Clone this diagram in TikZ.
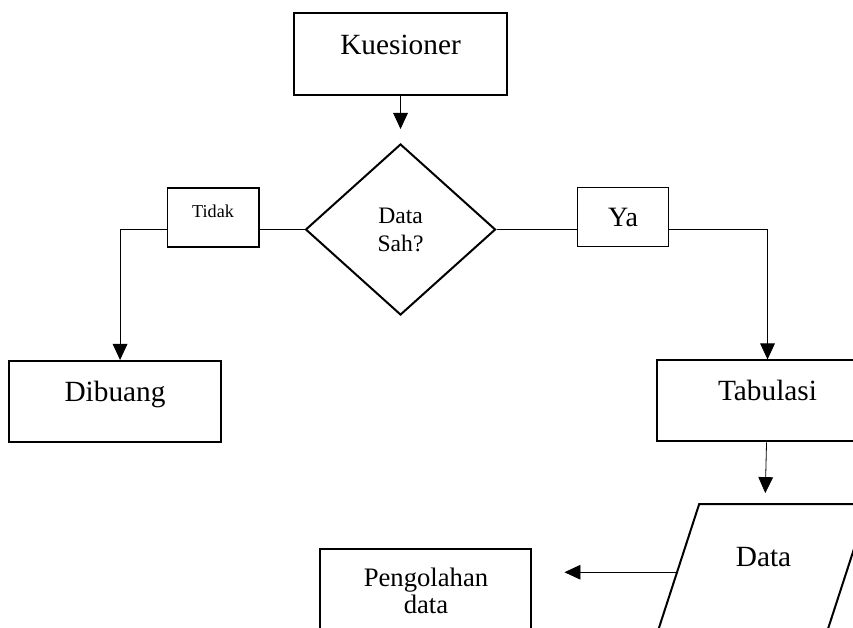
\documentclass[tikz,border=0pt]{standalone}
\usepackage{fontspec}
\setmainfont{Liberation Serif}
\usetikzlibrary{positioning,shapes.geometric,arrows.meta,calc}

\tikzset{
  box/.style={draw, line width=1.5pt, inner sep=0pt, font=\fontsize{22pt}{26pt}\selectfont, text height=16pt, text depth=16pt},
  pilihan/.style={draw, line width=1.2pt, inner sep=0pt, minimum width=68.5pt, minimum height=44.5pt},
  cek/.style={diamond, draw, line width=1.5pt, inner sep=0pt, minimum width=142.5pt, minimum height=128.25pt, align=center, font=\fontsize{17.7pt}{21pt}\selectfont},
  masukan/.style={trapezium, trapezium left angle=72, trapezium right angle=108, trapezium stretches body, draw, line width=1.5pt, inner xsep=0pt, inner ysep=30.9pt, minimum width=157.5pt, font=\fontsize{22pt}{26pt}\selectfont, text height=16pt, text depth=16pt},
  garis/.style={line width=0.6pt},
  panah/.style={line width=0.6pt, -{Triangle[length=12pt,width=11pt]}}
}

\begin{document}
\begin{tikzpicture}
\useasboundingbox (0,0) rectangle (639.75pt,-471pt);
\clip (0,0) rectangle (639.75pt,-471pt);
\node[box, minimum width=159.75pt, minimum height=61.5pt] (kues) at (300.4pt,-40.5pt) {Kuesioner};
\node[cek, below=35.25pt of kues] (sah) {Data\\Sah?};
\node[pilihan, left=33.75pt of sah, yshift=9pt, font=\fontsize{13.6pt}{16pt}\selectfont, text height=10pt, text depth=10pt] (tidak) {Tidak};
\node[pilihan, right=60pt of sah, yshift=9.4pt, font=\fontsize{21pt}{25pt}\selectfont] (ya) {Ya};
\node[box, minimum width=159pt, minimum height=60.75pt, below=84pt of tidak, xshift=-73.5pt] (dibuang) {Dibuang};
\node[box, minimum width=166.5pt, minimum height=60.75pt, below=84pt of ya, xshift=108.4pt] (tabulasi) {Tabulasi};
\node[masukan, below=45.5pt of tabulasi, xshift=-3pt] (data) {Data};
\node[draw, line width=1.5pt, inner sep=0pt, minimum width=158.25pt, minimum height=63pt, align=center, font=\fontsize{20pt}{20.25pt}\selectfont, left=109pt of data, yshift=-18.4pt] (olah) {Pengolahan\\data};

\coordinate (keluar) at ($(data.bottom left corner)!0.456!(data.top left corner)$);
\draw[panah, shorten >=10.5pt] (kues) -- (sah);
\draw[garis] (sah.west) -- (sah.west -| tidak.east);
\draw[panah] (sah.west -| tidak.west) -| ([xshift=3.75pt]dibuang.north);
\draw[garis] (sah.east) -- (sah.east -| ya.west);
\draw[panah] (sah.east -| ya.east) -| (tabulasi.north);
\draw[panah, shorten >=7.5pt] (tabulasi) -- (data);
\draw[panah, shorten >=24pt] (keluar) -- (keluar -| olah.east);
\end{tikzpicture}
\end{document}
